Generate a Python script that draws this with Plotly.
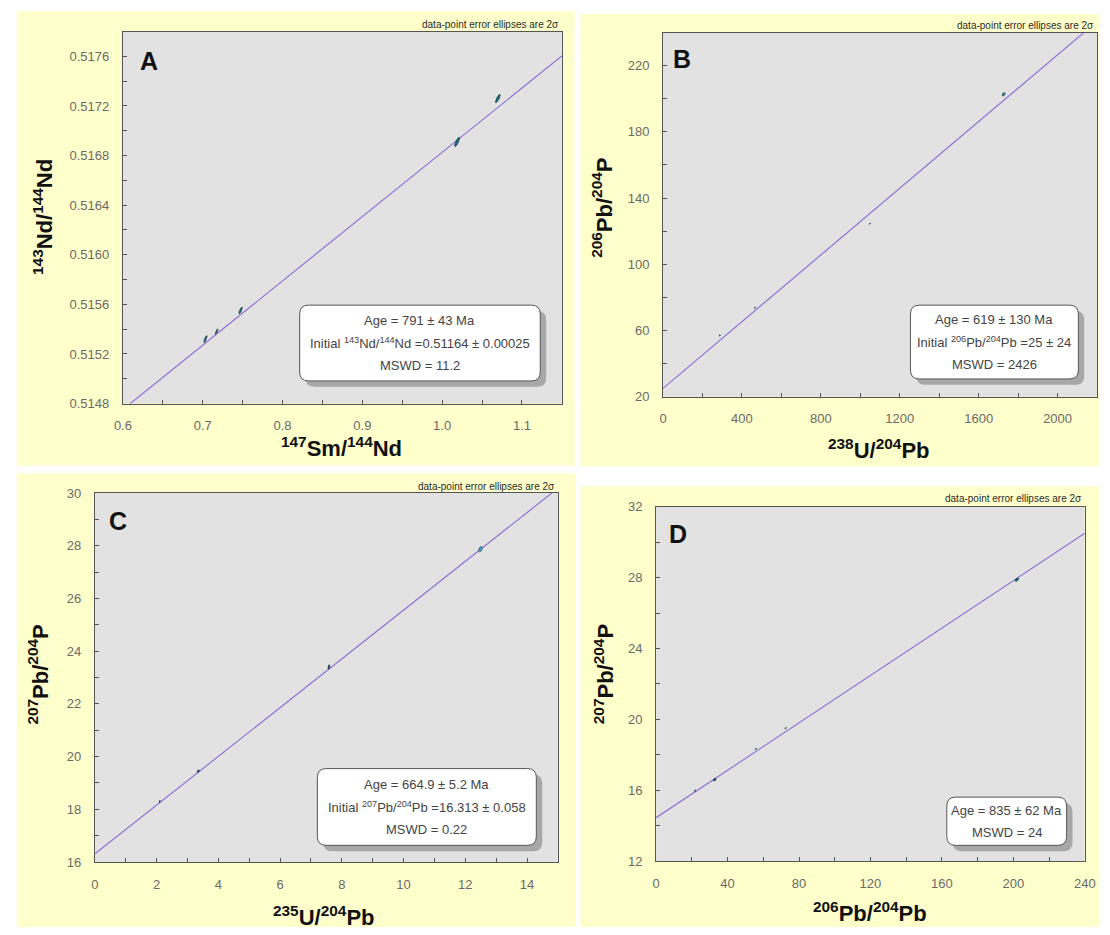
import numpy as np
import plotly.graph_objects as go

W, H = 1110, 935

# Decay constants (1/yr) and present-day 238U/235U
LAMBDA_147SM = 6.54e-12
LAMBDA_238U = 1.55125e-10
LAMBDA_235U = 9.8485e-10
U238_U235 = 137.88

# ---- Panel A: 147Sm/144Nd vs 143Nd/144Nd ----
a_x = [0.7034, 0.7174, 0.7474, 1.0187, 1.0698]
a_y = [0.51532, 0.51538, 0.51555, 0.51691, 0.51726]
a_err_x = [0.0020, 0.0016, 0.0022, 0.0032, 0.0030]
a_err_y = [0.000028, 0.000022, 0.000028, 0.000038, 0.000034]
a_rho = [0.82, 0.82, 0.82, 0.82, 0.82]
a_age_ma = 791
a_initial = 0.51164

# ---- Panel B: 238U/204Pb vs 206Pb/204Pb ----
b_x = [288, 466, 1049, 1727]
b_y = [57.0, 73.7, 124.5, 202.7]
b_err_x = [3.0, 3.0, 3.0, 7.5]
b_err_y = [0.4, 0.4, 0.4, 1.0]
b_rho = [0.4, 0.4, 0.4, 0.4]
b_age_ma = 619
b_initial = 25

# ---- Panel C: 235U/204Pb vs 207Pb/204Pb ----
c_x = [2.10, 3.35, 7.58, 12.49]
c_y = [18.30, 19.45, 23.40, 27.87]
c_err_x = [0.02, 0.035, 0.03, 0.06]
c_err_y = [0.04, 0.05, 0.09, 0.10]
c_rho = [0.5, 0.5, 0.5, 0.5]
c_age_ma = 664.9
c_initial = 16.313

# ---- Panel D: 206Pb/204Pb vs 207Pb/204Pb ----
d_x = [21.8, 32.8, 55.9, 72.5, 202.0]
d_y = [15.98, 16.60, 18.33, 19.50, 27.89]
d_err_x = [0.4, 0.8, 0.4, 0.4, 1.0]
d_err_y = [0.04, 0.08, 0.04, 0.04, 0.10]
d_rho = [0.5, 0.5, 0.5, 0.5, 0.5]
d_age_ma = 835
d_intercept = 14.45

# Axis ranges
a_xrange, a_yrange = [0.6, 1.15], [0.5148, 0.5178]
b_xrange, b_yrange = [0, 2200], [20, 240]
c_xrange, c_yrange = [0, 15], [16, 30]
d_xrange, d_yrange = [0, 240], [12, 32]

# Isochron slopes from the quoted ages
a_slope = np.expm1(LAMBDA_147SM * a_age_ma * 1e6)
b_slope = np.expm1(LAMBDA_238U * b_age_ma * 1e6)
c_slope = np.expm1(LAMBDA_235U * c_age_ma * 1e6)
d_slope = np.expm1(LAMBDA_235U * d_age_ma * 1e6) / (U238_U235 * np.expm1(LAMBDA_238U * d_age_ma * 1e6))

# Pixel layout of the four panels (left, top, right, bottom)
panels = {
    "A": dict(bg=(8, 4, 576, 466), plot=(116, 25, 563, 403)),
    "B": dict(bg=(582, 7, 1110, 467), plot=(666, 26, 1108, 396)),
    "C": dict(bg=(8, 474, 577, 935), plot=(87.5, 494, 559, 869)),
    "D": dict(bg=(582, 487, 1110, 935), plot=(659, 508, 1095.5, 868)),
}

YELLOW = "#FFFFCC"
PLOT_GREY = "#E2E2E2"
LINE_PURPLE = "#8a6ad4"
FONT = "Arial, Liberation Sans, sans-serif"


def px(x):
    return x / W


def py(y):
    return 1 - y / H


def ellipse(cx, cy, sx, sy, rho, n=40):
    t = np.linspace(0, 2 * np.pi, n)
    xs = cx + sx * np.cos(t)
    ys = cy + sy * (rho * np.cos(t) + np.sqrt(1 - rho ** 2) * np.sin(t))
    return xs, ys


def rounded_path(x0, y0, x1, y1, r):
    pts = [
        ("M", (x0 + r, y0)), ("L", (x1 - r, y0)), ("Q", (x1, y0), (x1, y0 + r)),
        ("L", (x1, y1 - r)), ("Q", (x1, y1), (x1 - r, y1)),
        ("L", (x0 + r, y1)), ("Q", (x0, y1), (x0, y1 - r)),
        ("L", (x0, y0 + r)), ("Q", (x0, y0), (x0 + r, y0)),
    ]
    out = []
    for cmd, *coords in pts:
        out.append(cmd + " " + " ".join(f"{px(cx):.5f},{py(cy):.5f}" for cx, cy in coords))
    return " ".join(out) + " Z"


fig = go.Figure()
shapes = []
annotations = []

# Yellow panel backgrounds and grey plotting areas
for key, p in panels.items():
    x0, y0, x1, y1 = p["bg"]
    shapes.append(dict(type="rect", xref="paper", yref="paper", layer="below",
                       x0=px(x0), x1=px(x1), y0=py(y1), y1=py(y0),
                       fillcolor=YELLOW, line=dict(width=0)))
for key, p in panels.items():
    x0, y0, x1, y1 = p["plot"]
    shapes.append(dict(type="rect", xref="paper", yref="paper", layer="below",
                       x0=px(x0), x1=px(x1), y0=py(y1), y1=py(y0),
                       fillcolor=PLOT_GREY, line=dict(width=0)))

panel_data = [
    ("A", "x", "y", a_x, a_y, a_err_x, a_err_y, a_rho, a_xrange, a_slope, a_initial),
    ("B", "x2", "y2", b_x, b_y, b_err_x, b_err_y, b_rho, b_xrange, b_slope, b_initial),
    ("C", "x3", "y3", c_x, c_y, c_err_x, c_err_y, c_rho, c_xrange, c_slope, c_initial),
    ("D", "x4", "y4", d_x, d_y, d_err_x, d_err_y, d_rho, d_xrange, d_slope, d_intercept),
]

ellipse_fill = {"A": "#1f6e7c", "B": "#3a5a66", "C": "#2f4f5c", "D": "#2a5f6a"}
highlight_fill = {"B": "#2b86b0", "C": "#45b3e3", "D": "#1f6e7c"}

for key, xa, ya, xs, ys, ex, ey, rho, xr, slope, icpt in panel_data:
    # isochron
    lx = np.linspace(xr[0], xr[1], 50)
    fig.add_trace(go.Scatter(x=lx, y=icpt + slope * lx, mode="lines", xaxis=xa, yaxis=ya,
                             line=dict(color=LINE_PURPLE, width=1.1), hoverinfo="skip",
                             showlegend=False))
    # 2-sigma error ellipses
    for i, (cx, cy) in enumerate(zip(xs, ys)):
        exs, eys = ellipse(cx, cy, ex[i], ey[i], rho[i])
        fill = ellipse_fill[key]
        if i == len(xs) - 1 and key in highlight_fill:
            fill = highlight_fill[key]
        fig.add_trace(go.Scatter(x=exs, y=eys, mode="lines", fill="toself", xaxis=xa, yaxis=ya,
                                 fillcolor=fill, line=dict(color="#16404a", width=0.8),
                                 hoverinfo="skip", showlegend=False))


def axis(domain, rng, dtick, minor_dtick, fmt, anchor, standoff):
    return dict(domain=domain, range=rng, anchor=anchor, showgrid=False, zeroline=False,
                showline=True, mirror=True, linecolor="#555555", linewidth=1,
                ticks="inside", ticklen=4, tickcolor="#555555", tickwidth=1,
                tick0=rng[0], dtick=dtick, tickformat=fmt,
                minor=dict(ticks="inside", ticklen=4, tickcolor="#555555", dtick=minor_dtick,
                           tick0=rng[0], showgrid=False),
                tickfont=dict(family=FONT, size=13, color="#6a6a6a"),
                ticklabelstandoff=standoff, fixedrange=True)


def xdom(k):
    x0, _, x1, _ = panels[k]["plot"]
    return [px(x0), px(x1)]


def ydom(k):
    _, y0, _, y1 = panels[k]["plot"]
    return [py(y1), py(y0)]


layout_axes = dict(
    xaxis=axis(xdom("A"), a_xrange, 0.1, 0.05, ".1f", "y", 10),
    yaxis=axis(ydom("A"), a_yrange, 0.0004, 0.0002, ".4f", "x", 10),
    xaxis2=axis(xdom("B"), b_xrange, 400, 200, "d", "y2", 10),
    yaxis2=axis(ydom("B"), b_yrange, 40, 20, "d", "x2", 10),
    xaxis3=axis(xdom("C"), c_xrange, 2, 1, "d", "y3", 10),
    yaxis3=axis(ydom("C"), c_yrange, 2, 1, "d", "x3", 10),
    xaxis4=axis(xdom("D"), d_xrange, 40, 20, "d", "y4", 10),
    yaxis4=axis(ydom("D"), d_yrange, 4, 2, "d", "x4", 10),
)

# Panel letters
for key, (lx, ly) in {"A": (143, 55), "B": (685, 53), "C": (111, 522), "D": (681, 536)}.items():
    annotations.append(dict(xref="paper", yref="paper", x=px(lx), y=py(ly), text=f"<b>{key}</b>",
                            showarrow=False, xanchor="center", yanchor="middle",
                            font=dict(family=FONT, size=25, color="#111111")))

# Axis titles
x_titles = {
    "A": ("<b><sup>147</sup>Sm/<sup>144</sup>Nd</b>", 339, 447),
    "B": ("<b><sup>238</sup>U/<sup>204</sup>Pb</b>", 886, 449),
    "C": ("<b><sup>235</sup>U/<sup>204</sup>Pb</b>", 321, 924),
    "D": ("<b><sup>206</sup>Pb/<sup>204</sup>Pb</b>", 877, 920),
}
y_titles = {
    "A": ("<b><sup>143</sup>Nd/<sup>144</sup>Nd</b>", 34, 213),
    "B": ("<b><sup>206</sup>Pb/<sup>204</sup>P</b>", 604, 204),
    "C": ("<b><sup>207</sup>Pb/<sup>204</sup>P</b>", 30, 678),
    "D": ("<b><sup>207</sup>Pb/<sup>204</sup>P</b>", 606, 678),
}
for txt, x, y in x_titles.values():
    annotations.append(dict(xref="paper", yref="paper", x=px(x), y=py(y), text=txt, showarrow=False,
                            xanchor="center", yanchor="middle",
                            font=dict(family=FONT, size=22, color="#111111")))
for txt, x, y in y_titles.values():
    annotations.append(dict(xref="paper", yref="paper", x=px(x), y=py(y), text=txt, showarrow=False,
                            xanchor="center", yanchor="middle", textangle=-90,
                            font=dict(family=FONT, size=22, color="#111111")))

# Ellipse note above each plot
for key, ny in {"A": 18, "B": 19, "C": 487, "D": 500}.items():
    x1 = panels[key]["plot"][2]
    annotations.append(dict(xref="paper", yref="paper", x=px(x1 - 1), y=py(ny),
                            text="data-point error ellipses are 2σ", showarrow=False,
                            xanchor="right", yanchor="middle",
                            font=dict(family=FONT, size=10, color="#2a2a2a")))

# Result boxes
boxes = {
    "A": ((296, 303, 541, 380), [
        f"Age = {a_age_ma} ± 43 Ma",
        f"Initial <sup>143</sup>Nd/<sup>144</sup>Nd ={a_initial} ± 0.00025",
        "MSWD = 11.2"]),
    "B": ((918, 303, 1089, 378), [
        f"Age = {b_age_ma} ± 130 Ma",
        f"Initial <sup>206</sup>Pb/<sup>204</sup>Pb ={b_initial} ± 24",
        "MSWD = 2426"]),
    "C": ((314, 774, 537, 852), [
        f"Age = {c_age_ma} ± 5.2 Ma",
        f"Initial <sup>207</sup>Pb/<sup>204</sup>Pb ={c_initial} ± 0.058",
        "MSWD = 0.22"]),
    "D": ((955, 803, 1077, 852), [
        f"Age = {d_age_ma} ± 62 Ma",
        "MSWD = 24"]),
}
for key, ((x0, y0, x1, y1), lines) in boxes.items():
    shapes.append(dict(type="path", xref="paper", yref="paper", layer="above",
                       path=rounded_path(x0 + 6, y0 + 6, x1 + 6, y1 + 6, 9),
                       fillcolor="rgba(120,120,120,0.55)", line=dict(width=0)))
    shapes.append(dict(type="path", xref="paper", yref="paper", layer="above",
                       path=rounded_path(x0, y0, x1, y1, 9),
                       fillcolor="white", line=dict(color="#555555", width=1)))
    n = len(lines)
    step = 22.5
    cy = (y0 + y1) / 2
    for i, t in enumerate(lines):
        ly = cy + (i - (n - 1) / 2) * step
        annotations.append(dict(xref="paper", yref="paper", x=px((x0 + x1) / 2), y=py(ly), text=t,
                                showarrow=False, xanchor="center", yanchor="middle",
                                font=dict(family=FONT, size=13, color="#444444")))

fig.update_layout(
    width=W, height=H, margin=dict(l=0, r=0, t=0, b=0),
    paper_bgcolor="white", plot_bgcolor="rgba(0,0,0,0)",
    showlegend=False, shapes=shapes, annotations=annotations,
    **layout_axes,
)

fig.write_html("out.html", config={"displayModeBar": False})
